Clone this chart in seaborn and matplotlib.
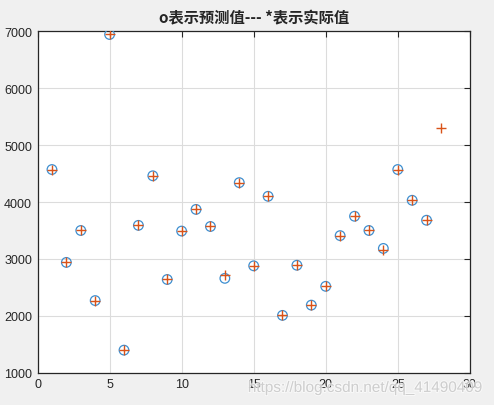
import numpy as np
import pandas as pd
import matplotlib
matplotlib.use('Agg')
from matplotlib import pyplot as plt
import matplotlib.patheffects as pe
import seaborn as sns

# predicted values (circles) and actual values (plus signs)
pred_x = list(range(1, 28))
pred_y = [4570, 2940, 3500, 2270, 6940, 1400, 3590, 4460, 2640, 3490,
          3870, 3570, 2660, 4340, 2880, 4100, 2010, 2890, 2190, 2520,
          3410, 3750, 3500, 3185, 4570, 4030, 3680]
act_x = list(range(1, 29))
act_y = [4570, 2940, 3500, 2270, 6940, 1400, 3590, 4460, 2640, 3490,
         3870, 3570, 2710, 4340, 2880, 4100, 2010, 2890, 2190, 2520,
         3410, 3750, 3500, 3150, 4570, 4030, 3680, 5300]
x_ticks = [0, 5, 10, 15, 20, 25, 30]
y_ticks = [1000, 2000, 3000, 4000, 5000, 6000, 7000]
title = 'o表示预测值--- *表示实际值'
watermark = 'https://blog.csdn.net/qq_41490409'

pred = pd.DataFrame({'x': pred_x, 'y': pred_y})
act = pd.DataFrame({'x': act_x, 'y': act_y})

sns.set_style('whitegrid')
plt.rcParams['font.family'] = ['Liberation Sans', 'DejaVu Sans']

fig = plt.figure(figsize=(4.94, 4.06), dpi=100, facecolor='#f0f0f0')
ax = fig.add_axes([0.076, 0.079, 0.875, 0.842])
ax.set_facecolor('white')

#circles
sns.scatterplot(data=pred, x='x', y='y', ax=ax, marker='o', s=48,
                color='#3e8fd0', linewidth=0.9, zorder=3)
ax.collections[0].set_facecolor('none')
ax.collections[0].set_edgecolor('#3e8fd0')
#plus signs
sns.scatterplot(data=act, x='x', y='y', ax=ax, marker='+', s=55,
                color='#d95319', linewidth=1.0, zorder=4)

ax.set_xlim(0, 30)
ax.set_ylim(1000, 7000)
ax.set_xticks(x_ticks)
ax.set_yticks(y_ticks)
ax.set_xlabel('')
ax.set_ylabel('')
ax.grid(True, color='#dcdcdc', linewidth=0.8)
for s in ax.spines.values():
    s.set_visible(True)
    s.set_color('#262626')
    s.set_linewidth(0.9)
ax.tick_params(direction='in', length=4, width=0.8, color='#262626',
               top=True, right=True, labelsize=9, labelcolor='#262626', pad=4)

ax.set_title(title, fontsize=11, fontweight='bold', pad=6,
             family=['Noto Sans CJK SC', 'DejaVu Sans'])

# watermark over the tick labels, like the source image
fig.text(0.738, 0.042, watermark, fontsize=11, color='#c4c4c4', alpha=0.75,
         ha='center', va='center', zorder=10,
         path_effects=[pe.withStroke(linewidth=1.5, foreground='white', alpha=0.6)])

fig.savefig('out.png', dpi=100, facecolor=fig.get_facecolor())
